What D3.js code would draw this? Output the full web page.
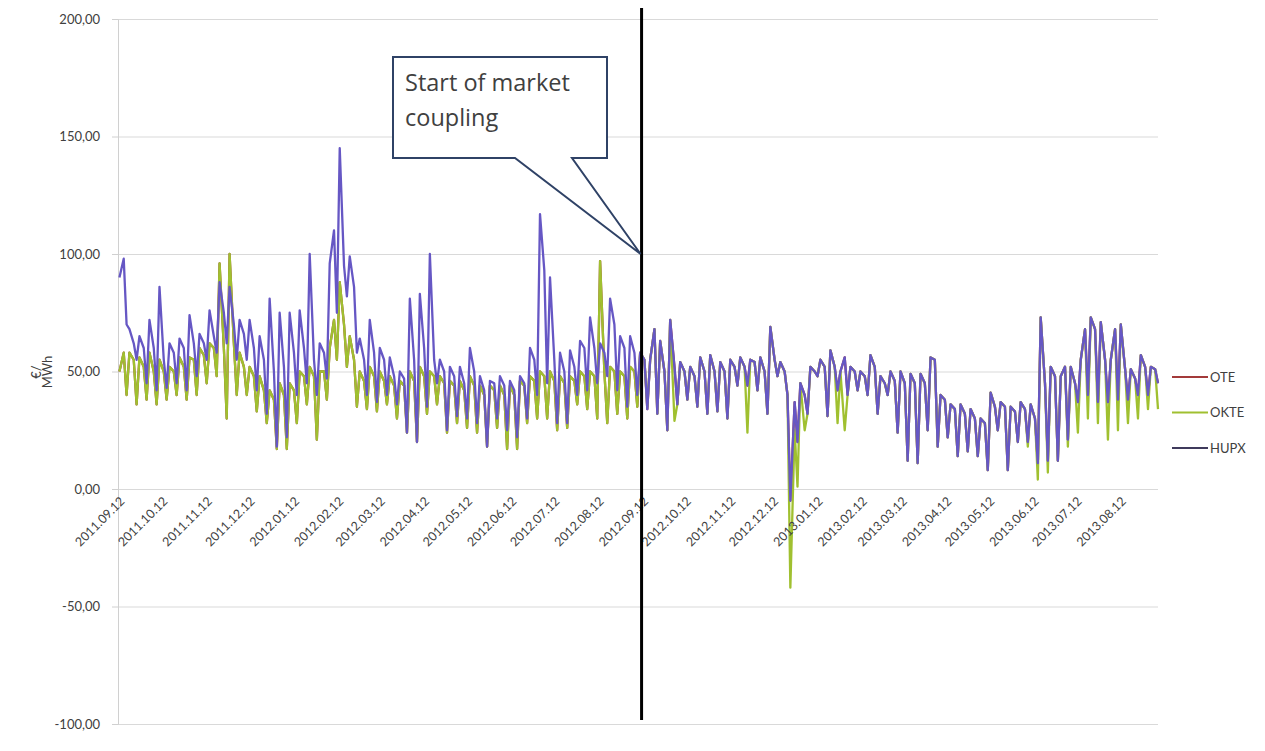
<!DOCTYPE html>
<html>
<head>
<meta charset="utf-8">
<script src="https://cdn.jsdelivr.net/npm/d3@7"></script>
<style>
  body { margin: 0; background: #fff; }
  text { font-family: Lato, "Open Sans", sans-serif; fill: #404040; }
</style>
</head>
<body>
<div class="canvas"></div>
<script>
const svgWidth = 1265;
const svgHeight = 751;

/*** DATA ***/
// prices in EUR/MWh, three values per week (Tue, Fri, Sun) from the week of 2011.09.12
const startDate = new Date(2011, 8, 12);
const couplingDate = new Date(2012, 8, 12);
const weekDays = [1, 4, 6];

// before market coupling (HUPX separate from OTE/OKTE)
const hupxBefore = [
  90, 98, 70,  68, 62, 55,  65, 60, 45,  72, 60, 42,  86, 55, 43,
  62, 58, 45,  64, 60, 42,  74, 62, 48,  66, 62, 55,  76, 65, 58,
  88, 75, 62,  86, 70, 55,  72, 66, 55,  72, 60, 42,  65, 55, 32,
  81, 50, 18,  75, 52, 22,  75, 58, 40,  76, 60, 45,  100, 55, 40,
  62, 58, 47,  96, 110, 75,  145, 95, 82,  99, 86, 58,  64, 55, 40,
  72, 58, 37,  60, 55, 40,  56, 48, 36,  50, 47, 24,  81, 55, 20,
  83, 60, 35,  100, 55, 45,  55, 50, 25,  52, 48, 31,  52, 45, 30,
  60, 50, 28,  48, 42, 18,  46, 45, 30,  48, 44, 25,  46, 42, 22,
  48, 45, 30,  60, 55, 40,  117, 93, 45,  90, 55, 28,  58, 50, 28,
  59, 52, 40,  63, 60, 42,  73, 60, 45,  62, 58, 48,  81, 70, 42,
  65, 60, 35,  65, 58, 40];

const okteBefore = [
  50, 58, 40,  58, 55, 36,  56, 52, 38,  58, 50, 36,  55, 50, 38,
  52, 50, 40,  56, 52, 38,  56, 55, 40,  60, 57, 45,  62, 60, 48,
  96, 60, 30,  100, 62, 40,  58, 52, 40,  52, 48, 33,  48, 42, 28,
  42, 38, 17,  45, 40, 17,  45, 42, 28,  50, 48, 36,  52, 48, 21,
  50, 50, 38,  60, 72, 55,  88, 70, 52,  65, 55, 35,  50, 46, 34,
  52, 48, 33,  50, 46, 36,  48, 44, 30,  46, 44, 24,  50, 46, 20,
  52, 48, 32,  50, 48, 36,  48, 45, 24,  46, 44, 28,  46, 42, 26,
  48, 44, 24,  44, 40, 18,  44, 42, 26,  44, 40, 17,  44, 40, 17,
  46, 44, 28,  48, 46, 30,  50, 48, 30,  50, 46, 25,  48, 45, 26,
  48, 46, 36,  50, 48, 34,  50, 48, 30,  97, 50, 28,  52, 50, 32,
  50, 48, 30,  52, 50, 35];

// after coupling the three markets mostly share one price
const coupledPrices = [
  58, 55, 34,  55, 68, 32,  63, 50, 25,  72, 52, 36,  54, 50, 38,
  52, 48, 35,  56, 50, 32,  57, 50, 33,  54, 50, 30,  55, 52, 44,
  56, 52, 44,  55, 54, 42,  56, 50, 32,  69, 55, 48,  54, 50, 40,
  -5, 37, 20,  45, 40, 32,  52, 50, 48,  55, 52, 31,  59, 52, 42,
  50, 56, 40,  52, 50, 42,  50, 48, 40,  57, 52, 32,  48, 45, 40,
  50, 46, 24,  50, 45, 12,  49, 45, 11,  49, 45, 25,  56, 55, 18,
  40, 38, 22,  36, 34, 14,  36, 32, 16,  34, 30, 14,  30, 28, 8,
  41, 35, 25,  37, 35, 8,  35, 33, 20,  37, 34, 20,  36, 30, 11,
  73, 45, 12,  52, 48, 12,  48, 52, 21,  52, 45, 37,  55, 68, 40,
  73, 68, 37,  71, 55, 37,  55, 68, 38,  70, 51, 38,  51, 47, 40,
  57, 52, 40,  52, 51, 45];

const okteAfter = [
  58, 55, 35,  55, 68, 32,  63, 50, 25,  72, 29, 36,  54, 50, 38,
  52, 48, 35,  56, 50, 32,  57, 50, 33,  54, 50, 30,  55, 52, 44,
  56, 52, 24,  55, 54, 42,  56, 50, 32,  69, 55, 48,  54, 50, 40,
  -42, 25, 1,  45, 25, 32,  52, 50, 48,  55, 52, 31,  59, 52, 28,
  50, 25, 40,  52, 50, 42,  50, 48, 40,  57, 52, 32,  48, 45, 40,
  50, 46, 24,  50, 45, 12,  49, 45, 11,  49, 45, 25,  56, 55, 18,
  40, 38, 22,  36, 34, 14,  36, 32, 16,  34, 30, 14,  30, 28, 8,
  41, 35, 25,  37, 35, 8,  35, 33, 20,  37, 34, 18,  36, 30, 4,
  73, 45, 7,  52, 48, 12,  48, 52, 18,  52, 45, 24,  55, 68, 30,
  73, 68, 28,  71, 55, 21,  55, 68, 25,  70, 51, 28,  51, 47, 30,
  57, 52, 34,  52, 51, 34];

const seriesNames = ['OTE', 'OKTE', 'HUPX'];
const seriesValues = [
  okteBefore.concat(coupledPrices),
  okteBefore.concat(okteAfter),
  hupxBefore.concat(coupledPrices)
];
const seriesColors = ['#a33a3a', '#a0c030', '#6657c4'];
const legendColors = ['#a33a3a', '#a0c030', '#3f3a5c'];

const yTicks = [-100, -50, 0, 50, 100, 150, 200];
const xTickLabels = ['2011.09.12', '2011.10.12', '2011.11.12', '2011.12.12',
  '2012.01.12', '2012.02.12', '2012.03.12', '2012.04.12', '2012.05.12',
  '2012.06.12', '2012.07.12', '2012.08.12', '2012.09.12', '2012.10.12',
  '2012.11.12', '2012.12.12', '2013.01.12', '2013.02.12', '2013.03.12',
  '2013.04.12', '2013.05.12', '2013.06.12', '2013.07.12', '2013.08.12'];
const calloutText = ['Start of market', 'coupling'];

/*** SETUP ***/
const svg = d3.select('.canvas')
  .append('svg')
  .attr('width', svgWidth)
  .attr('height', svgHeight);

const margin = { top: 19, right: 107, bottom: 27, left: 118 };
const graphWidth = svgWidth - margin.left - margin.right;
const graphHeight = svgHeight - margin.top - margin.bottom;

const graph = svg.append('g')
  .attr('transform', `translate(${margin.left}, ${margin.top})`);

const parseDate = d3.timeParse('%Y.%m.%d');
// index -> date (three points a week)
const dateAt = i => d3.timeDay.offset(startDate, Math.floor(i / 3) * 7 + weekDays[i % 3]);

const nPoints = seriesValues[0].length;
const x = d3.scaleTime()
  .domain([startDate, dateAt(nPoints - 1)])
  .range([0, graphWidth]);

const y = d3.scaleLinear()
  .domain([-100, 200])
  .range([graphHeight, 0]);

const locale = d3.formatLocale({ decimal: ',', thousands: ' ', grouping: [3], currency: ['', ''], minus: '-' });
const fmt = locale.format('.2f');

// gridlines
graph.append('g')
  .attr('class', 'grid')
  .call(d3.axisLeft(y).tickValues(yTicks).tickSize(-graphWidth).tickFormat(''))
  .call(g => g.select('.domain').remove())
  .call(g => g.selectAll('line').attr('stroke', '#d9d9d9'));

// y axis
const yAxisGroup = graph.append('g')
  .call(d3.axisLeft(y).tickValues(yTicks).tickSize(6).tickPadding(12).tickFormat(fmt));
yAxisGroup.select('.domain').attr('stroke', '#d0d0d0');
yAxisGroup.selectAll('line').attr('stroke', '#d0d0d0');
yAxisGroup.selectAll('text')
  .style('font-size', '13px')
  .style('font-family', 'Lato, sans-serif')
  .attr('fill', '#404040');

// y axis title
const yTitle = svg.append('text')
  .attr('transform', 'translate(41, 372) rotate(-90)')
  .attr('text-anchor', 'middle')
  .style('font-size', '13px');
yTitle.append('tspan').attr('x', 0).attr('dy', 0).text('€/');
yTitle.append('tspan').attr('x', 0).attr('dy', 11).text('MWh');

/*** LINES ***/
const line = d3.line()
  .x((d, i) => x(dateAt(i)))
  .y(d => y(d));

graph.selectAll('path.series')
  .data(seriesValues)
  .enter()
  .append('path')
    .attr('class', 'series')
    .attr('d', line)
    .attr('fill', 'none')
    .attr('stroke', (d, i) => seriesColors[i])
    .attr('stroke-width', 2.3)
    .attr('stroke-linejoin', 'round');

// x axis labels at the zero line
const xAxisGroup = graph.append('g')
  .attr('transform', `translate(0, ${y(0)})`)
  .call(d3.axisBottom(x)
    .tickValues(xTickLabels.map(parseDate))
    .tickSize(0)
    .tickFormat(d3.timeFormat('%Y.%m.%d')));
xAxisGroup.select('.domain').remove();
xAxisGroup.selectAll('text')
  .attr('x', 0)
  .attr('y', 0)
  .attr('dy', 0)
  .attr('transform', 'translate(7, 13) rotate(-45)')
  .attr('text-anchor', 'end')
  .style('font-size', '12.5px')
  .style('font-family', 'Lato, sans-serif')
  .attr('fill', '#404040');

/*** MARKET COUPLING MARKER ***/
const cx = x(couplingDate);
graph.append('line')
  .attr('x1', cx).attr('x2', cx)
  .attr('y1', -11).attr('y2', graphHeight - 4)
  .attr('stroke', '#000')
  .attr('stroke-width', 3);

// callout box with pointer to the 100 line
const bx0 = 393 - margin.left, bx1 = 607 - margin.left;
const by0 = 57 - margin.top, by1 = 158 - margin.top;
const tipY = y(100);
const callout = d3.path();
callout.moveTo(bx0, by0);
callout.lineTo(bx1, by0);
callout.lineTo(bx1, by1);
callout.lineTo(572 - margin.left, by1);
callout.lineTo(cx - 1, tipY);
callout.lineTo(515 - margin.left, by1);
callout.lineTo(bx0, by1);
callout.closePath();
graph.append('path')
  .attr('d', callout.toString())
  .attr('fill', '#fff')
  .attr('stroke', '#2f4266')
  .attr('stroke-width', 2)
  .attr('stroke-linejoin', 'miter');

graph.selectAll('text.callout')
  .data(calloutText)
  .enter()
  .append('text')
    .attr('class', 'callout')
    .attr('x', bx0 + 12)
    .attr('y', (d, i) => by0 + 34 + i * 35)
    .style('font-size', '23.5px')
    .style('font-family', '"Open Sans", sans-serif')
    .attr('fill', '#333')
    .text(d => d);

/*** LEGEND ***/
const legend = svg.append('g')
  .attr('transform', 'translate(1172, 377)');
const items = legend.selectAll('g')
  .data(seriesNames)
  .enter()
  .append('g')
    .attr('transform', (d, i) => `translate(0, ${i * 35.5})`);
items.append('line')
  .attr('x1', 0).attr('x2', 36)
  .attr('stroke', (d, i) => legendColors[i])
  .attr('stroke-width', 2);
items.append('text')
  .attr('x', 38)
  .attr('dy', '0.35em')
  .style('font-size', '13px')
  .text(d => d);
</script>
</body>
</html>
